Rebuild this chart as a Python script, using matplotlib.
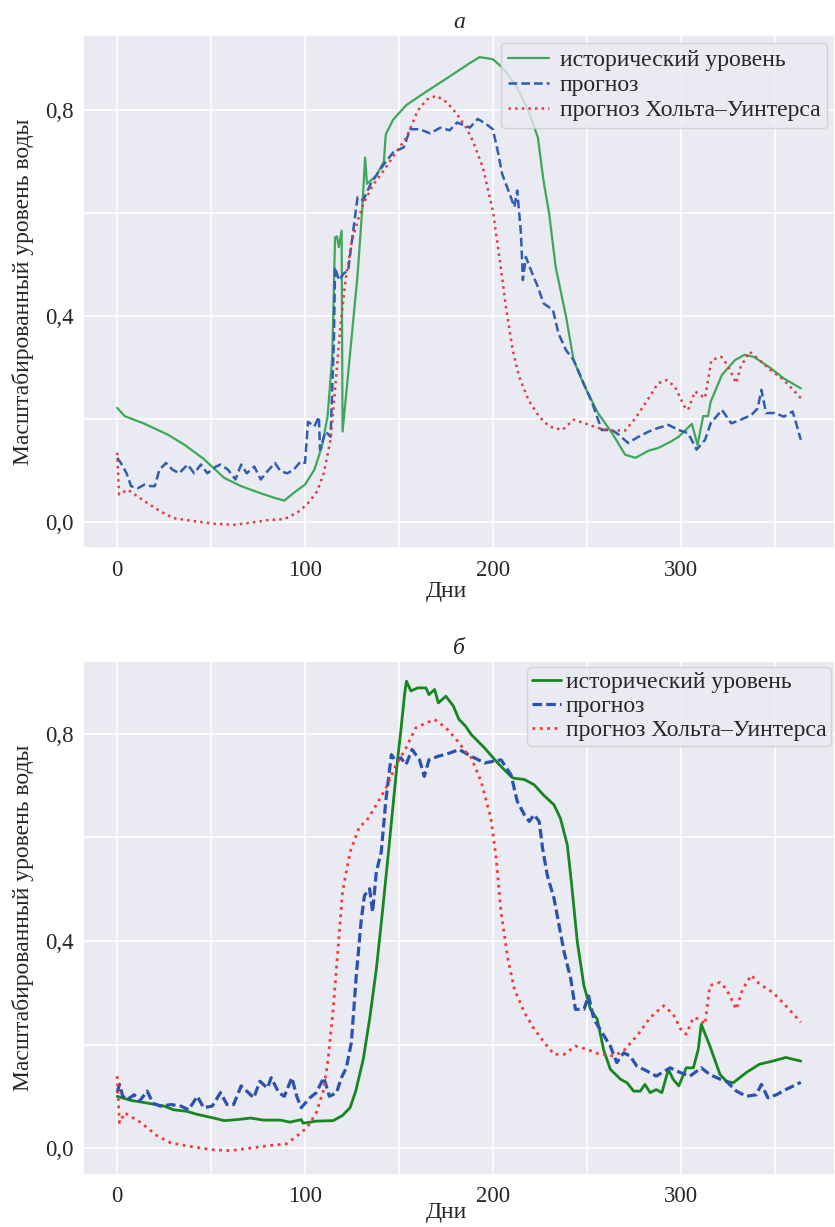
import matplotlib
matplotlib.use("Agg")
import matplotlib.pyplot as plt
import seaborn as sns
from matplotlib.ticker import FuncFormatter, MultipleLocator

sns.set_theme(style="darkgrid")
plt.rcParams['font.family'] = ['Liberation Serif', 'DejaVu Serif']
plt.rcParams['mathtext.fontset'] = 'stix'

# ---------------- Panel (a) ----------------
a_hist_x = [0, 4, 14, 27, 36, 46, 57, 66, 75, 84, 89, 94, 100, 105, 109, 112, 114.5, 116, 117, 118, 119.5, 120,
            123, 128, 130.5, 132, 133, 138, 142, 143, 147, 154, 165, 176, 188, 193, 200, 205, 212, 219, 224, 227,
            230, 233.5, 239, 243, 249, 256, 263.5, 270.5, 276, 283, 288, 295, 299, 306, 309, 312, 314.6, 316, 322,
            329, 334, 339, 348, 355, 364]
a_hist_y = [0.222, 0.206, 0.192, 0.170, 0.150, 0.123, 0.086, 0.070, 0.058, 0.047, 0.042, 0.057, 0.073, 0.102,
            0.147, 0.205, 0.321, 0.553, 0.555, 0.534, 0.566, 0.176, 0.289, 0.48, 0.61, 0.708, 0.657, 0.673, 0.70,
            0.753, 0.782, 0.81, 0.837, 0.863, 0.892, 0.903, 0.899, 0.883, 0.85, 0.799, 0.747, 0.663, 0.599, 0.495,
            0.399, 0.315, 0.263, 0.212, 0.173, 0.131, 0.125, 0.139, 0.144, 0.157, 0.166, 0.191, 0.150, 0.206,
            0.206, 0.234, 0.286, 0.315, 0.325, 0.321, 0.299, 0.279, 0.260]

a_fc_x = [0, 2, 5, 7.4, 11, 14.5, 18, 20, 22.5, 26, 29.5, 33, 37.5, 41, 44.6, 48, 52.6, 55, 59, 63, 66, 69, 73,
          76.5, 80, 84, 87, 90.6, 94, 97.7, 100, 101.6, 105, 107.4, 108, 111, 113.6, 115.4, 116, 118, 120.7, 123,
          125, 128, 131, 135, 138.4, 142, 147, 152.6, 156, 161, 166.7, 172, 177, 181, 186, 187.7, 192, 196.5, 200,
          202.6, 205, 209, 211.5, 213, 215, 216, 217.6, 221, 224, 227, 232, 235, 239, 243, 247.6, 253, 258, 263.5,
          267, 272, 277.6, 283, 288, 293.5, 299, 304, 308.5, 313, 316, 322, 327, 332, 337.6, 341, 343, 345.5, 350,
          355, 359.6, 361, 364]
a_fc_y = [0.125, 0.115, 0.095, 0.070, 0.066, 0.073, 0.070, 0.070, 0.102, 0.115, 0.102, 0.095, 0.112, 0.095,
          0.112, 0.095, 0.108, 0.112, 0.102, 0.083, 0.112, 0.095, 0.108, 0.083, 0.099, 0.115, 0.099, 0.095, 0.102,
          0.118, 0.115, 0.195, 0.186, 0.205, 0.141, 0.176, 0.166, 0.354, 0.495, 0.47, 0.483, 0.489, 0.547, 0.631,
          0.625, 0.657, 0.676, 0.695, 0.718, 0.728, 0.763, 0.763, 0.755, 0.766, 0.761, 0.776, 0.769, 0.766, 0.783,
          0.773, 0.763, 0.721, 0.676, 0.637, 0.612, 0.644, 0.56, 0.47, 0.515, 0.483, 0.457, 0.425, 0.412, 0.366,
          0.334, 0.315, 0.276, 0.231, 0.179, 0.179, 0.170, 0.154, 0.166, 0.176, 0.183, 0.189, 0.179, 0.173, 0.141,
          0.160, 0.192, 0.218, 0.192, 0.199, 0.208, 0.221, 0.257, 0.212, 0.212, 0.205, 0.215, 0.199, 0.160]

a_hw_x = [0, 1, 5.7, 14.5, 23, 30, 41, 52, 62, 71, 80, 89, 96, 101, 106.5, 110, 113.6, 116, 119, 121.6, 125,
          128.7, 131, 136.6, 142, 149, 154, 160, 165, 170, 175.6, 181, 186, 189.4, 194.7, 200, 203.5, 207, 210.6,
          214, 219, 224.7, 230, 237, 243, 249, 256, 263.5, 270.5, 276, 283, 288, 292.6, 297, 302, 304, 307.6, 313,
          316.4, 321.7, 325, 329.6, 332, 336.7, 341, 348, 355, 364]
a_hw_y = [0.135, 0.054, 0.063, 0.041, 0.021, 0.008, 0.002, -0.003, -0.005, -0.001, 0.004, 0.006, 0.019, 0.034,
          0.060, 0.095, 0.160, 0.257, 0.386, 0.470, 0.547, 0.592, 0.618, 0.657, 0.683, 0.721, 0.747, 0.799, 0.821,
          0.828, 0.815, 0.792, 0.765, 0.740, 0.689, 0.605, 0.515, 0.418, 0.334, 0.283, 0.237, 0.205, 0.186, 0.179,
          0.199, 0.192, 0.183, 0.178, 0.178, 0.202, 0.241, 0.270, 0.276, 0.263, 0.225, 0.218, 0.254, 0.241, 0.315,
          0.321, 0.305, 0.270, 0.302, 0.331, 0.318, 0.295, 0.276, 0.241]

# ---------------- Panel (b) ----------------
b_hist_x = [0, 7.4, 16, 25, 30, 37, 42.7, 51.5, 57, 64, 71, 78, 87, 92, 98, 99, 106, 115, 120, 124, 127, 131,
            134.4, 138, 141.4, 145, 147.6, 149.4, 151, 153, 154, 156.4, 160, 164.4, 166, 169, 171, 175, 179, 182,
            185.5, 188.5, 195.6, 202.6, 208, 210.6, 216.8, 222, 227, 232.6, 236, 239.7, 242, 245, 248.5, 252,
            255.6, 259, 262.6, 268, 271.5, 275, 278.5, 281, 283.8, 287, 290, 293.5, 296, 299, 303, 306.8, 309.4,
            311, 315.6, 321, 324.4, 328, 335, 342, 349, 356, 364]
b_hist_y = [0.100, 0.092, 0.087, 0.081, 0.074, 0.071, 0.065, 0.058, 0.053, 0.055, 0.058, 0.054, 0.054, 0.050,
            0.055, 0.048, 0.052, 0.053, 0.063, 0.078, 0.110, 0.171, 0.249, 0.346, 0.462, 0.592, 0.689, 0.754,
            0.805, 0.876, 0.902, 0.883, 0.889, 0.889, 0.876, 0.886, 0.860, 0.873, 0.854, 0.828, 0.815, 0.799,
            0.773, 0.744, 0.724, 0.715, 0.712, 0.702, 0.682, 0.663, 0.637, 0.585, 0.508, 0.398, 0.314, 0.268,
            0.249, 0.190, 0.152, 0.133, 0.126, 0.110, 0.110, 0.123, 0.107, 0.113, 0.107, 0.152, 0.133, 0.120,
            0.155, 0.155, 0.191, 0.239, 0.197, 0.142, 0.129, 0.126, 0.146, 0.162, 0.168, 0.175, 0.168]

b_fc_x = [0, 1.2, 3, 5.6, 9, 12, 16, 19, 23, 28.6, 34, 38, 42.7, 46, 50.6, 55, 58.5, 62, 66, 69, 72.7, 76, 80,
          82, 86, 89, 93, 95.6, 98, 102.6, 106, 110, 113, 116.8, 119.4, 122, 124.7, 127.3, 130, 131.7, 134.4, 136,
          138, 140.6, 143, 146, 148.5, 151, 153.8, 157, 161, 163.5, 166, 171, 177, 182, 188.5, 195.6, 204.4, 209.7,
          213, 216.8, 219.4, 222, 224.7, 226.5, 229, 232.6, 235.3, 238, 241.5, 244, 248.5, 251, 253.8, 257, 262.6,
          266, 269.7, 273, 276.8, 282, 287, 294.4, 299.7, 305, 311, 315.6, 321, 324.4, 329.7, 335, 340.3, 343,
          346.5, 351, 356, 364]
b_fc_y = [0.107, 0.123, 0.100, 0.094, 0.103, 0.091, 0.110, 0.087, 0.081, 0.084, 0.081, 0.074, 0.100, 0.078,
          0.081, 0.107, 0.084, 0.084, 0.120, 0.110, 0.097, 0.129, 0.116, 0.136, 0.107, 0.100, 0.136, 0.100, 0.078,
          0.097, 0.107, 0.136, 0.100, 0.107, 0.136, 0.155, 0.204, 0.333, 0.443, 0.488, 0.501, 0.456, 0.534, 0.572,
          0.670, 0.760, 0.747, 0.754, 0.741, 0.770, 0.750, 0.718, 0.750, 0.757, 0.763, 0.770, 0.757, 0.744, 0.750,
          0.721, 0.670, 0.644, 0.631, 0.644, 0.631, 0.579, 0.527, 0.482, 0.430, 0.378, 0.327, 0.268, 0.268, 0.294,
          0.249, 0.230, 0.197, 0.165, 0.184, 0.178, 0.158, 0.149, 0.139, 0.155, 0.146, 0.139, 0.155, 0.142, 0.133,
          0.129, 0.110, 0.100, 0.103, 0.123, 0.097, 0.103, 0.113, 0.127]

b_hw_x = [0, 1.2, 4, 12.7, 21.5, 28.6, 39, 50, 60, 71, 81.5, 90, 95.6, 101, 106, 110, 112.3, 115, 117.6, 120,
          124, 129, 132.6, 138, 143, 148.5, 153.8, 159, 164.4, 169, 175, 180, 185.5, 188.5, 193.8, 199, 201.8,
          204.4, 208, 211.5, 216.8, 222, 227.4, 232.6, 238, 244, 250, 257, 264.4, 269.7, 276.8, 283.8, 290.9, 296,
          300.6, 303, 306.8, 310.3, 313, 315.6, 321, 324.4, 329.7, 333, 337.6, 342, 349, 356, 364]
b_hw_y = [0.139, 0.049, 0.068, 0.049, 0.023, 0.010, 0.003, -0.003, -0.005, 0.000, 0.005, 0.008, 0.023, 0.039,
          0.068, 0.113, 0.171, 0.268, 0.385, 0.495, 0.572, 0.621, 0.631, 0.663, 0.695, 0.740, 0.773, 0.812, 0.821,
          0.828, 0.812, 0.792, 0.766, 0.754, 0.708, 0.637, 0.560, 0.456, 0.366, 0.307, 0.262, 0.230, 0.204, 0.181,
          0.181, 0.197, 0.191, 0.181, 0.178, 0.188, 0.217, 0.252, 0.275, 0.259, 0.226, 0.220, 0.252, 0.249, 0.239,
          0.314, 0.320, 0.307, 0.268, 0.307, 0.334, 0.317, 0.301, 0.275, 0.243]

labels = ['исторический уровень', 'прогноз', 'прогноз Хольта–Уинтерса']
y_ticks = [0.0, 0.4, 0.8]
x_ticks = [0, 100, 200, 300]

fig = plt.figure(figsize=(8.35, 12.27), dpi=100)
ax1 = fig.add_axes([0.0994, 0.5534, 0.9006, 0.4181])
ax2 = fig.add_axes([0.0994, 0.0424, 0.9006, 0.4189])

comma = FuncFormatter(lambda v, p: f"{v:.1f}".replace('.', ','))

def style(ax, title, ylim, xpad):
    ax.set_xlim(-18.2, 382.2)
    ax.set_ylim(*ylim)
    ax.set_xticks(x_ticks)
    ax.set_yticks(y_ticks)
    ax.xaxis.set_minor_locator(MultipleLocator(50))
    ax.yaxis.set_minor_locator(MultipleLocator(0.2))
    ax.yaxis.set_major_formatter(comma)
    ax.grid(True, which='both', color='white', linewidth=1.2)
    ax.tick_params(axis='x', which='major', labelsize=16.5, pad=xpad, length=0)
    ax.tick_params(axis='y', which='major', labelsize=16.5, pad=7, length=0)
    ax.tick_params(which='minor', length=0)
    ax.set_xlabel('Дни', fontsize=17)
    ax.set_ylabel('Масштабированный уровень воды', fontsize=17, labelpad=8)
    ax.set_title(title, fontsize=17, style='italic', pad=5)

ax1.plot(a_hist_x, a_hist_y, color='#3da85a', lw=1.6, ls='-', label=labels[0])
ax1.plot(a_fc_x, a_fc_y, color='#2f5eb0', lw=1.8, ls='--', dashes=(3.5, 1.6), label=labels[1])
ax1.plot(a_hw_x, a_hw_y, color='#d84045', lw=1.8, ls=':', label=labels[2])
style(ax1, 'а', (-0.05, 0.946), 9)
ax1.legend(loc='upper right', bbox_to_anchor=(0.99, 0.985), fontsize=17, handlelength=1.75,
           handletextpad=0.45, labelspacing=0.15, borderpad=0.3, borderaxespad=0.0, framealpha=0.8)

ax2.plot(b_hist_x, b_hist_y, color='#16861f', lw=2.0, ls='-', label=labels[0])
ax2.plot(b_fc_x, b_fc_y, color='#2a52b0', lw=2.3, ls='--', dashes=(3.0, 1.3), label=labels[1])
ax2.plot(b_hw_x, b_hw_y, color='#f23a3a', lw=2.0, ls=':', label=labels[2])
style(ax2, 'б', (-0.052, 0.941), 8)
ax2.legend(loc='upper right', bbox_to_anchor=(0.995, 0.988), fontsize=17, handlelength=1.25,
           handletextpad=0.2, labelspacing=0.1, borderpad=0.2, borderaxespad=0.0, framealpha=0.8)

# x labels: top of text just under the tick labels
ax1.xaxis.set_label_coords(0.483, -0.064)
ax2.xaxis.set_label_coords(0.483, -0.053)

fig.savefig('out.png', dpi=100)
